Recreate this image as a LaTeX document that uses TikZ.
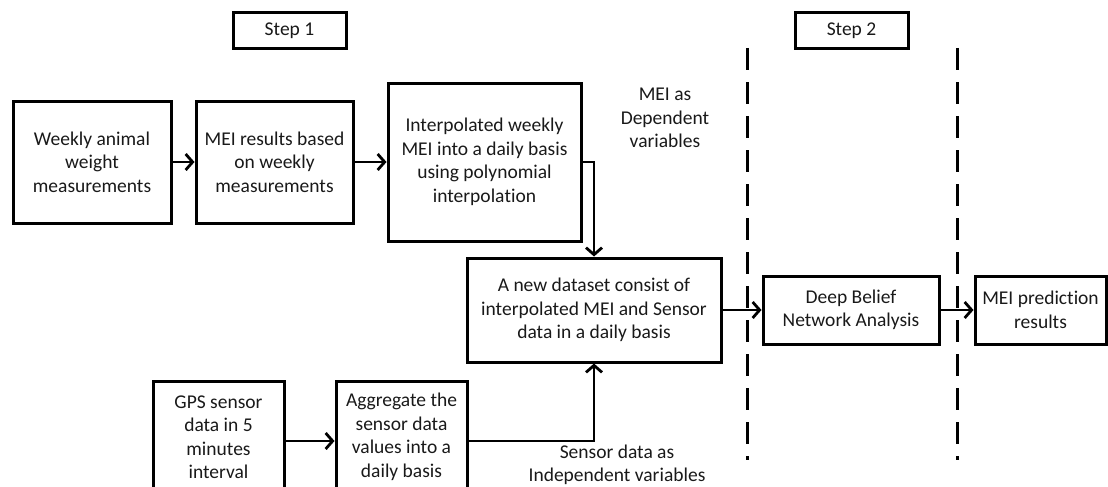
\documentclass[tikz,border=0pt]{standalone}
\usepackage{fontspec}
\setmainfont{Carlito}[Ligatures={NoCommon,NoRare,NoContextual}]
\usetikzlibrary{arrows.meta}
\begin{document}
\begin{tikzpicture}[x=1pt,y=-1pt,
  every node/.style={font=\fontsize{19.5}{23.5}\selectfont, text=black!90},
  box/.style={draw=black, line width=3pt, rectangle, inner sep=0pt, align=center},
  lbl/.style={align=center, inner sep=0pt},
  arr/.style={draw=black, line width=2.8pt, -{Straight Barb[length=7pt,width=16pt,line width=2.8pt]}},
  sep/.style={draw=black, line width=3pt, dash pattern=on 22pt off 12pt}]
\useasboundingbox (0,0) rectangle (1108,487);
\clip (0,0) rectangle (1108,487);
% step labels
\node[box, minimum width=113pt, minimum height=36pt] (s1) at (289.5,31) {Step 1};
\node[box, minimum width=113pt, minimum height=36pt] (s2) at (851.5,31) {Step 2};
% step 1 boxes
\node[box, minimum width=158pt, minimum height=122pt] (A) at (92,162) {Weekly animal\\weight\\measurements};
\node[box, minimum width=157pt, minimum height=122pt] (B) at (274.5,162) {MEI results based\\on weekly\\measurements};
\node[box, minimum width=193pt, minimum height=158pt] (C) at (484.5,162) {Interpolated weekly\\MEI into a daily basis\\using polynomial\\interpola\kern0pt tion};
\node[box, minimum width=254pt, minimum height=104pt] (D) at (594,310) {A new dataset consist of\\interpolated MEI and Sensor\\data in a daily basis};
\node[box, minimum width=131pt, minimum height=112pt] (G) at (218.5,437) {GPS sensor\\data in 5\\minutes\\interval};
\node[box, minimum width=131pt, minimum height=112pt] (Ag) at (401.5,437) {Aggregate the\\sensor data\\values into a\\daily basis};
% step 2 boxes
\node[box, minimum width=176pt, minimum height=68pt] (N) at (851,310) {Deep Belief\\Network Analysis};
\node[box, minimum width=131pt, minimum height=68pt] (P) at (1040.5,310) {MEI predic\kern0pt tion\\results};
% labels
\node[lbl] (dep) at (665,118) {MEI as\\Dependent\\variables};
\node[lbl] (ind) at (617,465) {Sensor data as\\Independent variables};
% separators
\coordinate (d1t) at (747,48);
\coordinate (d1b) at (747,460);
\coordinate (d2t) at (957,48);
\coordinate (d2b) at (957,460);
\draw[sep] (d1t) -- (d1b);
\draw[sep] (d2t) -- (d2b);
% connectors
\draw[arr] (A) -- (B);
\draw[arr] (B) -- (C);
\draw[arr] (C.east) -| (D.north);
\draw[arr] ([yshift=-4pt]G.east) -- ([yshift=-4pt]Ag.west);
\draw[arr] ([yshift=-4pt]Ag.east) -| (D.south);
\draw[arr] (D) -- (N);
\draw[arr] (N) -- (P);
\end{tikzpicture}
\end{document}
